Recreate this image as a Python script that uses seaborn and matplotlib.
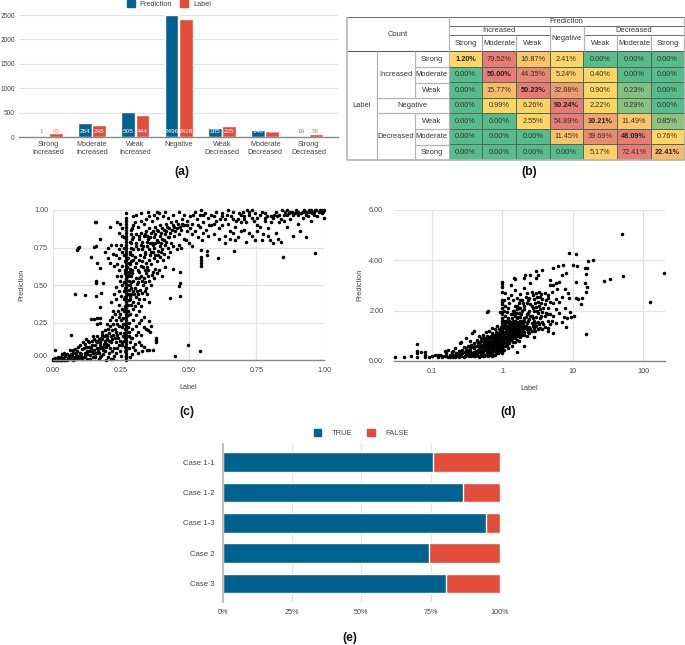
import numpy as np
import pandas as pd
import matplotlib
matplotlib.use("Agg")
import matplotlib.pyplot as plt
from matplotlib.colors import LinearSegmentedColormap
from matplotlib.patches import Patch
import seaborn as sns

# (a) class counts
classes = ["Strong\nIncreased", "Moderate\nIncreased", "Weak\nIncreased", "Negative",
           "Weak\nDecreased", "Moderate\nDecreased", "Strong\nDecreased"]
pred_counts = [1, 284, 505, 2496, 185, 140, 16]
label_counts = [83, 248, 444, 2428, 235, 131, 58]

# (b) confusion table, percent per label row
conf = [[1.20, 79.52, 16.87, 2.41, 0.00, 0.00, 0.00],
        [0.00, 50.00, 44.35, 5.24, 0.40, 0.00, 0.00],
        [0.00, 15.77, 50.23, 32.88, 0.90, 0.23, 0.00],
        [0.00, 0.99, 6.26, 90.24, 2.22, 0.29, 0.00],
        [0.00, 0.00, 2.55, 54.89, 30.21, 11.49, 0.85],
        [0.00, 0.00, 0.00, 11.45, 39.69, 48.09, 0.76],
        [0.00, 0.00, 0.00, 0.00, 5.17, 72.41, 22.41]]

# (c) points, the column at label 0.27 is kept apart
c_column_pred = [0.0, 0.01, 0.02, 0.03, 0.05, 0.07, 0.09, 0.11, 0.13, 0.15, 0.17, 0.19, 0.21, 0.23, 0.25,
                 0.27, 0.29, 0.31, 0.33, 0.35, 0.37, 0.39, 0.41, 0.43, 0.45, 0.47, 0.49, 0.51, 0.53, 0.55,
                 0.57, 0.59, 0.61, 0.63, 0.65, 0.67, 0.69, 0.71, 0.73, 0.75, 0.77, 0.79, 0.81, 0.83, 0.85,
                 0.87, 0.89, 0.91, 0.93, 0.95, 0.98]
c_points = [
    (.094, .744), (.09, .733), (.097, .753), (.082, .44), (.117, .433), (.156, .922), (.158, .918), (.141, .684),
    (.151, .756), (.157, .758), (.174, .807), (.211, .887), (.236, .922), (.249, .904), (.162, .649), (.172, .616),
    (.16, .527), (.16, .511), (.184, .511), (.157, .427), (.177, .444), (.173, .356), (.14, .271), (.15, .271),
    (.161, .278), (.174, .278), (.161, .238), (.174, .244), (.065, .167), (.006, .067), (.444, .604), (.47, .584),
    (.432, .416), (.47, .429), (.464, .496), (.469, .511), (.45, .029), (.497, .098), (.544, .06), (.355, .262),
    (.357, .189), (.38, .149), (.38, .131), (.38, .118), (.355, .067), (.37, .064), (.328, .06), (.346, .067),
    (.546, .733), (.546, .689), (.546, .667), (.546, .644), (.546, .629), (.567, .727), (.569, .7), (.61, .678),
    (.667, .727), (.847, .684), (.967, .716),
    # lower left cloud
    (.0, .0), (.005, .0), (.01, .0), (.015, .0), (.02, .0), (.025, .0), (.03, .0), (.035, .0), (.04, .0), (.045, .0),
    (.0, .01), (.006, .015), (.012, .01), (.018, .02), (.024, .012), (.03, .02), (.037, .012), (.044, .025), (.05, .0),
    (.055, .015), (.06, .03), (.065, .005), (.07, .025), (.075, .045), (.08, .01), (.085, .03), (.09, .06), (.095, .015),
    (.103, .04), (.108, .075), (.113, .02), (.117, .05), (.122, .09), (.127, .01), (.133, .06), (.138, .035), (.143, .1),
    (.147, .02), (.152, .07), (.157, .045), (.163, .12), (.168, .01), (.172, .08), (.177, .15), (.183, .04), (.187, .11),
    (.192, .06), (.197, .17), (.203, .02), (.207, .13), (.212, .08), (.218, .2), (.222, .01), (.228, .15), (.233, .05),
    (.237, .24), (.243, .1), (.247, .18), (.252, .03), (.257, .28), (.262, .13), (.266, .06), (.063, .065), (.072, .07),
    (.083, .075), (.092, .03), (.101, .1), (.112, .12), (.123, .14), (.131, .12), (.141, .06), (.153, .14), (.161, .08), (.171, .05),
    (.181, .19), (.193, .13), (.202, .21), (.213, .16), (.223, .24), (.232, .19), (.244, .29), (.253, .22), (.261, .33), (.204, .1),
    (.214, .12), (.224, .08), (.234, .12), (.241, .15), (.254, .1), (.263, .18), (.267, .24), (.251, .27), (.242, .23), (.231, .27),
    (.221, .17), (.211, .23), (.201, .16), (.191, .2), (.182, .14), (.173, .12), (.164, .16), (.154, .1), (.144, .13), (.134, .09),
    (.124, .06), (.114, .08), (.104, .02), (.093, .09), (.084, .05), (.074, .0), (.155, .02), (.175, .02), (.195, .0), (.215, .01),
    (.032, .04), (.041, .05), (.052, .04), (.058, .01), (.068, .04), (.078, .02), (.088, .01), (.098, .05), (.106, .01), (.118, .03),
    (.126, .04), (.136, .01), (.146, .05), (.156, .03), (.166, .06), (.176, .03), (.186, .07), (.196, .09), (.206, .05), (.216, .06),
    (.226, .03), (.236, .08), (.246, .06), (.256, .12), (.264, .09), (.194, .11), (.184, .09), (.174, .1), (.198, .14), (.208, .18),
    (.218, .14), (.228, .21), (.238, .17), (.248, .13), (.258, .16), (.209, .27), (.219, .29), (.229, .31), (.239, .33), (.249, .31),
    (.259, .24), (.199, .24), (.189, .16), (.179, .17), (.169, .14), (.159, .13), (.149, .16), (.139, .08), (.129, .13), (.119, .11),
    # around the column, lower half
    (.283, .02), (.291, .04), (.304, .07), (.312, .05), (.294, .09), (.302, .11), (.316, .12), (.323, .1), (.334, .09), (.284, .12),
    (.286, .15), (.293, .15), (.305, .17), (.314, .19), (.326, .17), (.335, .22), (.344, .21), (.352, .2), (.363, .23), (.281, .19),
    (.292, .21), (.306, .23), (.317, .25), (.324, .27), (.336, .29), (.282, .25), (.296, .27), (.307, .3), (.318, .33), (.284, .31),
    (.295, .34), (.303, .36), (.287, .37), (.297, .39), (.313, .38), (.325, .36), (.337, .41), (.308, .42), (.346, .44), (.353, .39),
    (.264, .36), (.253, .34), (.243, .37), (.234, .41), (.222, .33), (.214, .39), (.262, .41), (.252, .43), (.245, .46), (.233, .49),
    (.224, .44), (.263, .46), (.254, .5), (.246, .53), (.236, .56), (.261, .52), (.251, .56), (.242, .6), (.264, .58), (.255, .63),
    (.235, .64), (.225, .63), (.212, .65), (.203, .68), (.193, .72), (.204, .75), (.213, .77), (.223, .71), (.232, .7), (.243, .68),
    (.253, .72), (.263, .7), (.262, .75), (.252, .77), (.244, .74), (.233, .77), (.263, .82), (.253, .83), (.245, .85), (.255, .88),
    (.275, .3), (.278, .33), (.265, .34), (.276, .37), (.279, .4), (.266, .42), (.277, .44), (.28, .47), (.267, .48), (.274, .5),
    (.281, .53), (.268, .54), (.275, .56), (.282, .59), (.267, .6), (.274, .62), (.281, .65), (.266, .66), (.276, .68), (.283, .71),
    (.278, .22), (.265, .21), (.28, .16), (.264, .15), (.279, .08), (.268, .03), (.285, .41), (.288, .44), (.286, .48), (.289, .52),
    (.287, .56), (.291, .58), (.285, .61), (.288, .66), (.292, .7), (.286, .75), (.289, .78), (.293, .81), (.287, .84), (.29, .88),
    # upper cloud beside the column
    (.283, .43), (.294, .46), (.302, .48), (.314, .44), (.322, .47), (.331, .5), (.343, .48), (.354, .53), (.362, .5), (.373, .55),
    (.284, .5), (.296, .53), (.306, .55), (.315, .52), (.324, .56), (.336, .55), (.342, .58), (.351, .6), (.364, .57), (.376, .61),
    (.384, .58), (.392, .6), (.403, .56), (.413, .62), (.282, .57), (.293, .6), (.304, .62), (.312, .6), (.326, .63), (.333, .62),
    (.345, .65), (.356, .67), (.361, .64), (.374, .68), (.382, .66), (.394, .69), (.406, .67), (.411, .71), (.424, .69), (.432, .72),
    (.285, .64), (.296, .67), (.303, .69), (.316, .67), (.322, .7), (.334, .69), (.341, .72), (.355, .74), (.363, .72), (.372, .75),
    (.386, .73), (.393, .76), (.402, .74), (.415, .77), (.423, .75), (.434, .78), (.442, .76), (.456, .74), (.464, .77), (.473, .75),
    (.284, .72), (.295, .74), (.306, .76), (.313, .74), (.325, .77), (.332, .76), (.346, .79), (.352, .81), (.365, .78), (.374, .82),
    (.383, .8), (.396, .83), (.404, .81), (.412, .84), (.425, .82), (.433, .85), (.445, .83), (.452, .86), (.466, .84), (.474, .87),
    (.485, .81), (.492, .8), (.503, .78), (.514, .76), (.283, .79), (.294, .82), (.305, .84), (.316, .81), (.324, .85), (.335, .83),
    (.343, .86), (.356, .88), (.362, .85), (.375, .89), (.384, .87), (.395, .9), (.403, .88), (.416, .91), (.422, .89), (.435, .92),
    (.443, .9), (.454, .93), (.462, .91), (.475, .94), (.286, .87), (.297, .9), (.304, .92), (.315, .89), (.323, .93), (.336, .91),
    (.342, .94), (.354, .96), (.364, .93), (.373, .97), (.385, .95), (.392, .98), (.405, .96), (.414, .99), (.426, .95), (.444, .97),
    (.465, .99), (.306, .97), (.326, .98), (.351, .99), (.295, .96), (.384, .99),
    (.318, .83), (.328, .79), (.338, .84), (.348, .83), (.358, .82), (.368, .86), (.378, .84), (.388, .86), (.398, .85), (.408, .87),
    (.418, .86), (.428, .88), (.438, .87), (.448, .89), (.458, .88), (.468, .89), (.478, .9), (.308, .78), (.328, .74), (.338, .71),
    (.348, .76), (.358, .78), (.368, .77), (.378, .78), (.388, .79), (.398, .78), (.408, .8), (.418, .79), (.428, .82), (.308, .65),
    (.318, .59), (.328, .66), (.338, .6), (.348, .62), (.358, .7), (.368, .72), (.378, .7), (.388, .7), (.398, .72), (.309, .51),
    (.319, .55), (.329, .53), (.339, .52), (.349, .56), (.299, .44), (.309, .46), (.319, .41), (.329, .45), (.339, .46), (.369, .59),
    # upper tail
    (.482, .9), (.493, .93), (.504, .88), (.513, .91), (.525, .86), (.533, .94), (.544, .89), (.552, .92), (.564, .87), (.573, .95),
    (.583, .9), (.594, .84), (.603, .93), (.612, .88), (.624, .96), (.633, .83), (.645, .91), (.652, .86), (.664, .94), (.673, .89),
    (.684, .82), (.692, .97), (.703, .87), (.714, .92), (.722, .85), (.735, .95), (.744, .8), (.752, .9), (.763, .97), (.774, .84),
    (.783, .93), (.794, .88), (.802, .8), (.813, .95), (.824, .85), (.835, .92), (.843, .79), (.854, .97), (.862, .89), (.873, .94),
    (.884, .83), (.893, .98), (.905, .91), (.912, .86), (.923, .95), (.934, .82), (.943, .99), (.952, .93), (.963, .97), (.973, .96),
    (.982, .99), (.993, .98), (1.0, .95), (1.0, 1.0), (.483, .97), (.505, .96), (.523, .99), (.543, .97), (.553, .85), (.562, .98),
    (.584, .97), (.602, .99), (.623, .9), (.642, .97), (.663, .85), (.682, .94), (.702, .99), (.723, .97), (.743, .93), (.764, .89),
    (.782, .98), (.803, .96), (.822, .99), (.842, .94), (.863, .97), (.882, .99), (.903, .97), (.922, .99), (.942, .96), (.962, .99),
    (.494, .86), (.512, .84), (.534, .82), (.551, .8), (.572, .83), (.593, .91), (.613, .81), (.634, .78), (.654, .81), (.672, .8),
    (.693, .86), (.713, .79), (.734, .83), (.753, .86), (.773, .8), (.793, .83), (.812, .78), (.832, .81), (.704, .94), (.754, .95),
    (.804, .92), (.852, .93), (.904, .99), (.953, 1.0), (.972, 1.0), (.992, 1.0), (.933, .99), (.872, .98), (.833, .97), (.784, .95),
    (.715, 1.0), (.725, .99), (.735, 1.0), (.745, .98), (.77, .99), (.79, .96), (.815, .97), (.825, .96), (.845, 1.0), (.855, .99),
    (.865, 1.0), (.875, .99), (.885, .97), (.895, 1.0), (.915, .98), (.925, 1.0), (.935, .97), (.945, 1.0), (.955, .98), (.965, 1.0),
    (.985, 1.0), (.995, .99), (.625, .98), (.635, .94), (.655, .96), (.675, .93), (.695, .92), (.705, .96), (.685, .98), (.665, .99),
    (.645, 1.0), (.615, .94), (.595, .96), (.575, .9), (.555, .97), (.535, .9), (.515, .97), (.495, .9), (.475, .91), (.545, 1.0),
]

# (d) same idea, log label axis, the edge at label 1 is kept apart
d_edge_pred = [0.45, 0.55, 0.65, 0.7, 0.8, 0.9, 1.0, 1.1, 1.2, 1.3, 1.4, 1.5, 1.6, 1.7, 1.85, 1.95, 2.1, 2.25, 2.35, 2.4, 2.75, 2.95, 3.05, 3.15]
d_points = [
    (50, 5.03), (195, 3.49), (126, 2.32), (51, 3.36), (33.6, 3.26), (27.5, 3.18), (19.5, 3.99), (16.6, 3.96), (8.8, 4.28),
    (11.2, 4.26), (15.3, 1.09), (.061, .66), (.03, .14), (.04, .15), (.05, .2), (.06, .17), (.06, .3), (.06, .4), (.07, .37),
    (.08, .35), (.08, .22), (.08, .14), (.09, .16), (.1, .2), (.11, .25), (.12, .17), (.13, .22), (.14, .19), (.15, .4),
    (.15, .2), (.16, .3), (.17, .15), (.17, .42), (.18, .22), (.19, .35), (.2, .17), (.2, .25), (.21, .5), (.22, .3), (.23, .18),
    (.24, .4), (.25, .7), (.25, .22), (.26, .75), (.27, .3), (.28, .55), (.28, .16), (.3, .92), (.3, .4), (.31, .25), (.32, .6),
    (.33, .2), (.34, .45), (.35, .78), (.36, .3), (.37, 1.12), (.38, .55), (.39, 1.18), (.4, .2), (.4, .7), (.42, .4), (.43, .85),
    (.44, .25), (.45, .6), (.46, 1.0), (.47, .35), (.48, .75), (.5, .22), (.5, .5), (.5, .9), (.52, 1.05), (.53, .4), (.54, .7),
    (.55, .25), (.56, .85), (.57, .55), (.58, 1.15), (.6, .3), (.6, .65), (.6, 1.0), (.61, 1.95), (.62, 2.0), (.63, .45), (.64, .8),
    (.65, 1.2), (.66, .22), (.67, .6), (.68, .95), (.7, .35), (.7, .75), (.7, 1.1), (.72, 1.3), (.73, .5), (.74, .9), (.75, .25),
    (.76, .65), (.78, 1.0), (.79, 1.25), (.8, .4), (.8, .8), (.82, 1.15), (.83, .55), (.84, 1.4), (.85, .95), (.86, .3), (.87, .7),
    (.88, 1.05), (.9, .45), (.9, .85), (.9, 1.25), (.92, 1.95), (.93, .6), (.94, 1.0), (.95, 1.35), (.96, .75), (.97, .35), (.98, 1.15),
    (.55, .6), (.6, .8), (.65, .7), (.7, .9), (.75, .85), (.8, 1.0), (.85, .75), (.9, 1.1), (.95, .9), (.66, .95), (.72, .6), (.78, .8),
    # dense part right of the edge
    (1.05, .7), (1.05, 1.0), (1.05, 1.3), (1.05, 1.6), (1.05, 2.0), (1.05, 2.4), (1.1, .6), (1.1, .9), (1.1, 1.1), (1.1, 1.4), (1.1, 1.8),
    (1.1, 2.2), (1.1, 2.7), (1.15, .8), (1.15, 1.0), (1.15, 1.25), (1.15, 1.55), (1.15, 1.95), (1.2, .5), (1.2, .95), (1.2, 1.15), (1.2, 1.35),
    (1.2, 1.7), (1.2, 2.1), (1.2, 2.5), (1.25, .85), (1.25, 1.05), (1.25, 1.3), (1.25, 1.6), (1.25, 2.3), (1.3, 1.0), (1.3, 1.2), (1.3, 1.45),
    (1.3, 1.85), (1.3, 2.6), (1.3, 3.0), (1.4, .75), (1.4, .95), (1.4, 1.15), (1.4, 1.35), (1.4, 1.6), (1.4, 2.0), (1.4, 2.4), (1.45, 3.3),
    (1.5, .9), (1.5, 1.1), (1.5, 1.3), (1.5, 1.5), (1.5, 1.8), (1.5, 2.2), (1.5, 2.8), (1.5, 3.25), (1.6, .35), (1.6, 1.0), (1.6, 1.2), (1.6, 1.4), (1.6, 1.7),
    (1.6, 2.05), (1.6, 2.5), (1.7, .8), (1.7, 1.1), (1.7, 1.3), (1.7, 1.55), (1.7, 1.9), (1.7, 2.3), (1.8, .95), (1.8, 1.2), (1.8, 1.45), (1.8, 1.75),
    (1.8, 2.1), (1.8, 2.65), (1.9, 1.05), (1.9, 1.3), (1.9, 1.6), (1.9, 2.0), (1.9, 2.4), (2.0, .6), (2.0, 1.15), (2.0, 1.4), (2.0, 1.7), (2.0, 2.2), (2.0, 2.9),
    (2.0, 3.3), (2.1, 3.4), (2.2, 1.0), (2.2, 1.25), (2.2, 1.5), (2.2, 1.85), (2.2, 2.3), (2.2, 2.7), (2.4, 1.1), (2.4, 1.35), (2.4, 1.65), (2.4, 2.0), (2.4, 2.5),
    (2.5, 3.1), (2.5, 3.4), (2.6, 1.2), (2.6, 1.5), (2.6, 1.8), (2.6, 2.2), (2.6, 2.75), (2.8, .95), (2.8, 1.3), (2.8, 1.6), (2.8, 2.0), (2.8, 2.45), (3.0, 1.4),
    (3.0, 1.75), (3.0, 2.15), (3.0, 2.7), (3.0, 3.3), (3.0, 3.55), (3.2, 1.25), (3.2, 1.55), (3.2, 1.9), (3.2, 2.35), (3.2, 3.4), (3.4, 1.3), (3.4, 1.7), (3.4, 2.05),
    (3.4, 2.55), (3.6, 3.6), (3.7, 1.25), (3.7, 1.55), (3.7, 1.95), (3.7, 2.45), (4.0, 1.35), (4.0, 1.8), (4.0, 2.25), (4.0, 2.7), (4.4, 1.2), (4.4, 1.6), (4.4, 2.1),
    (4.4, 2.5), (4.7, 3.0), (4.8, 1.45), (4.8, 1.85), (4.8, 2.35), (4.8, 3.2), (5.2, 1.1), (5.2, 1.8), (5.2, 2.3), (5.2, 3.0), (5.3, 3.7), (5.7, 1.5), (5.7, 2.05), (5.7, 2.45),
    (5.7, 3.1), (6.0, 2.85), (6.2, 3.75), (6.3, 1.9), (6.3, 2.35), (6.3, 3.15), (6.9, 2.55), (7, 1.55), (7, 3.4), (7.3, 3.8), (7.5, 1.75), (7.8, 2.1), (7.8, 2.85),
    (8.0, 1.35), (8.0, 3.5), (8.2, 1.7), (8.5, 2.7), (8.7, 2.5), (9, 1.95), (9.5, 1.75), (10, 3.82), (10.5, 1.8), (11, 2.5), (11, 3.15), (11.5, 3.75), (12, 2.45),
    (13, 2.25), (13.5, 2.48), (15, 3.1), (15.5, 3.45), (16, 2.95), (15, 3.7), (16, 3.68), (15.3, 2.75),
    # dense lower band below the edge
    (.3, .3), (.35, .4), (.4, .35), (.45, .45), (.5, .4), (.55, .5), (.6, .55), (.65, .5), (.7, .55), (.75, .7), (.8, .65), (.85, .6), (.9, .7), (.95, .65),
    (.98, .8), (.98, .95), (.45, .7), (.5, .65), (.55, .78), (.6, .72), (.65, .85), (.7, .8), (.75, 1.0), (.8, .9), (.85, 1.1), (.9, .95), (.95, 1.2), (.98, 1.05), (.4, .5),
    (.35, .55), (.3, .5), (.25, .4), (.2, .38), (.25, .3), (.3, .22), (.4, .28), (.5, .3), (.6, .4), (.7, .45), (.8, .3), (.9, .55), (.97, .5), (1.05, .45), (.97, .3),
    (1.15, .65), (1.25, .7), (1.35, .6), (1.5, .75), (1.2, .8), (1.3, .85), (1.4, 1.05), (1.5, 1.0), (1.6, .85), (1.35, 1.1), (1.45, 1.25), (1.55, 1.1), (1.65, 1.25), (1.75, 1.0),
    # second pass over the crowded middle
    (.33, .3), (.37, .33), (.42, .3), (.46, .38), (.52, .33), (.57, .42), (.62, .37), (.68, .42), (.73, .38), (.77, .5), (.83, .45), (.88, .52), (.93, .48),
    (.36, .62), (.41, .6), (.47, .55), (.52, .58), (.56, .66), (.61, .6), (.66, .62), (.71, .68), (.76, .58), (.81, .72), (.86, .82), (.91, .62), (.96, .85),
    (.44, .8), (.49, .8), (.54, .9), (.59, .9), (.63, .95), (.69, 1.0), (.73, 1.05), (.77, .92), (.81, 1.08), (.87, .9), (.92, 1.15), (.96, 1.05), (.99, 1.25),
    (1.07, .85), (1.07, 1.15), (1.07, 1.45), (1.12, .75), (1.12, 1.25), (1.12, 1.6), (1.17, .9), (1.17, 1.12), (1.17, 1.4), (1.22, 1.05), (1.22, 1.25), (1.22, 1.5),
    (1.27, .95), (1.27, 1.15), (1.27, 1.4), (1.33, 1.1), (1.33, 1.3), (1.33, 1.55), (1.37, .9), (1.37, 1.25), (1.37, 1.7), (1.43, 1.1), (1.43, 1.45), (1.43, 1.85),
    (1.48, 1.2), (1.48, 1.4), (1.48, 2.0), (1.53, .95), (1.53, 1.25), (1.53, 1.6), (1.58, 1.3), (1.58, 1.5), (1.58, 1.9), (1.63, 1.1), (1.63, 1.55), (1.63, 2.2),
    (1.68, 1.2), (1.68, 1.4), (1.68, 1.75), (1.73, 1.0), (1.73, 1.45), (1.73, 2.1), (1.78, 1.3), (1.78, 1.6), (1.78, 2.4), (1.85, 1.15), (1.85, 1.4), (1.85, 1.85),
    (1.95, 1.2), (1.95, 1.5), (1.95, 2.3), (2.05, 1.05), (2.05, 1.3), (2.05, 1.6), (2.05, 2.05), (2.15, 1.4), (2.15, 1.75), (2.15, 2.55), (2.3, 1.15), (2.3, 1.6),
    (2.3, 1.9), (2.3, 2.4), (2.45, 1.25), (2.45, 1.8), (2.45, 2.25), (2.7, 1.4), (2.7, 1.7), (2.7, 2.1), (2.7, 2.6), (2.9, 1.2), (2.9, 1.5), (2.9, 2.3), (3.1, 2.0), (3.1, 2.55),
    (3.3, 1.45), (3.3, 2.2), (3.3, 2.75), (3.5, 1.8), (3.5, 2.3), (3.5, 2.65), (3.8, 2.1), (3.8, 1.45), (4.2, 1.9), (4.2, 2.4), (4.5, 1.3), (4.5, 1.85), (4.5, 2.6), (5.0, 1.6), (5, 2.75),
    (.12, .22), (.14, .15), (.16, .2), (.18, .16), (.19, .2), (.21, .15), (.22, .22), (.23, .28), (.24, .17), (.26, .2), (.27, .42), (.29, .18), (.29, .35), (.31, .45), (.33, .36),
    (.36, .2), (.38, .25), (.41, .18), (.43, .22), (.46, .17), (.48, .2), (.52, .2), (.55, .18), (.58, .22), (.62, .2), (.66, .3), (.7, .2), (.74, .22), (.78, .24), (.84, .4), (.9, .35),
]

# (e) share of correct cases
cases = ["Case 1-1", "Case 1-2", "Case 1-3", "Case 2", "Case 3"]
true_share = [76.0, 86.8, 95.0, 74.5, 80.5]
false_share = [24.0, 13.2, 5.0, 25.5, 19.5]

BLUE = "#00628f"
RED = "#e34c38"
TEXT = "#444444"
GRID = "#e2e2e2"
AXIS = "#8a8a8a"
W, H = 685, 645

sns.set_theme(style="whitegrid")
plt.rcParams["font.family"] = ["Liberation Sans", "DejaVu Sans"]
plt.rcParams["text.color"] = TEXT
plt.rcParams["axes.labelcolor"] = TEXT
plt.rcParams["xtick.color"] = TEXT
plt.rcParams["ytick.color"] = TEXT

fig = plt.figure(figsize=(W / 100, H / 100), dpi=100)


def panel(left, top, right, bottom):
    return fig.add_axes([left / W, 1 - bottom / H, (right - left) / W, (bottom - top) / H])


def clean(ax, bottom_line=True, left_line=False):
    ax.set_axisbelow(True)
    ax.grid(True, axis="both", color=GRID, linewidth=0.9)
    for name, spine in ax.spines.items():
        spine.set_visible(False)
    if bottom_line:
        ax.spines["bottom"].set_visible(True)
        ax.spines["bottom"].set_color(AXIS)
        ax.spines["bottom"].set_linewidth(1)
    if left_line:
        ax.spines["left"].set_visible(True)
        ax.spines["left"].set_color("#b5b5b5")
        ax.spines["left"].set_linewidth(1.2)
    ax.tick_params(length=0, labelsize=5.2)


# (a)
ax = panel(19, 15, 338, 137)
counts = pd.DataFrame({
    "cls": classes * 2,
    "count": pred_counts + label_counts,
    "kind": ["Prediction"] * 7 + ["Label"] * 7,
})
sns.barplot(data=counts, x="cls", y="count", hue="kind", palette=[BLUE, RED], saturation=1,
            width=0.66, gap=0.03, ax=ax, legend=False)
clean(ax)
ax.xaxis.grid(False)
ax.set_xlim(-0.686, 6.68)
ax.set_ylim(0, 2500)
ax.set_yticks([0, 500, 1000, 1500, 2000, 2500])
ax.set_xlabel("")
ax.set_ylabel("")
ax.tick_params(axis="y", pad=3, labelsize=4.7)
ax.tick_params(axis="x", pad=3)
for container, color in zip(ax.containers, ["#4f93bb", "#f0897a"]):
    for bar, value in zip(container, container.datavalues):
        inside = value > 100
        ax.text(bar.get_x() + bar.get_width() / 2, 108, f"{value:.0f}", ha="center", va="center",
                fontsize=4.6, color="white" if inside else color)
ax.legend(handles=[Patch(color=BLUE, label="Prediction"), Patch(color=RED, label="Label")],
          loc="center", bbox_to_anchor=(150 / 319, 1.09), ncol=2, frameon=False, fontsize=5.3,
          handlelength=1.0, handleheight=1.0, handletextpad=0.7, columnspacing=1.1, borderpad=0)

# (b)
conf_arr = np.array(conf)
levels = np.zeros_like(conf_arr)
for i, row in enumerate(conf_arr):
    lo, mid, hi = row.min(), np.median(row), row.max()
    for j, v in enumerate(row):
        if v <= lo:
            levels[i, j] = 0.0
        elif v <= mid:
            levels[i, j] = 0.5 * (v - lo) / (mid - lo)
        else:
            levels[i, j] = 0.5 + 0.5 * (v - mid) / (hi - mid)

scale = LinearSegmentedColormap.from_list("sheet", ["#57bb8a", "#ffd666", "#e67c73"])
ax = panel(448.7, 51.3, 684.3, 160)
cells = [[f"{v:.2f}%" for v in row] for row in conf]
sns.heatmap(levels, annot=np.array(cells), fmt="", cmap=scale, vmin=0, vmax=1, cbar=False,
            linewidths=0.5, linecolor="#4a6a5a", xticklabels=False, yticklabels=False,
            annot_kws={"fontsize": 5.3, "color": "#333333"}, ax=ax)
for i, t in enumerate(ax.texts):
    if i % 8 == 0:
        t.set_fontweight("bold")
        t.set_color("#222222")

# table frame and headers are drawn on a pixel overlay
ov = fig.add_axes([0, 0, 1, 1], facecolor="none")
ov.set_xlim(0, W)
ov.set_ylim(H, 0)
ov.axis("off")
col_x = [346.7, 376.7, 414.7, 448.7, 482.3, 516, 549.7, 583.7, 617.3, 651, 684.3]
row_y = [16.7, 26, 35.3, 51.3, 67, 82.7, 98, 113.3, 129, 144.7, 160]
GREY = "#b4b4b4"
DARK = "#555555"


def line(x0, y0, x1, y1, color=GREY, lw=0.9):
    ov.plot([x0, x1], [y0, y1], color=color, lw=lw, solid_capstyle="butt")


line(col_x[0], row_y[0], col_x[-1], row_y[0], DARK, 0.6)
line(col_x[3], row_y[1], col_x[-1], row_y[1], DARK, 0.6)
line(col_x[3], row_y[2], col_x[6], row_y[2], DARK, 0.6)
line(col_x[7], row_y[2], col_x[-1], row_y[2], DARK, 0.6)
line(col_x[0], row_y[3], col_x[-1], row_y[3], DARK, 0.7)
line(col_x[0], row_y[0], col_x[0], row_y[-1], GREY, 1.2)
line(col_x[0], row_y[-1], col_x[-1], row_y[-1], GREY, 1.2)
line(col_x[3], row_y[0], col_x[3], row_y[-1], GREY, 0.9)
line(col_x[-1], row_y[0], col_x[-1], row_y[-1], GREY, 1.0)
line(col_x[1], row_y[3], col_x[1], row_y[-1])
line(col_x[2], row_y[3], col_x[2], row_y[6])
line(col_x[2], row_y[7], col_x[2], row_y[-1])
for k in [6, 7]:
    line(col_x[1], row_y[k], col_x[3], row_y[k])
for k in [4, 5, 8, 9]:
    line(col_x[2], row_y[k], col_x[3], row_y[k])
for k in [4, 5, 6, 7, 8, 9]:
    line(col_x[k], row_y[1] if k in (6, 7) else row_y[2], col_x[k], row_y[3])

tkw = dict(ha="center", va="center", fontsize=5.4, color="#333333")
ov.text(397.5, 34, "Count", **tkw)
ov.text(566.5, 21.5, "Prediction", **tkw)
ov.text(499, 31, "Increased", **tkw)
ov.text(634, 31, "Decreased", **tkw)
ov.text(566.8, 38.5, "Negative", **tkw)
for x, name in zip(col_x[3:], ["Strong", "Moderate", "Weak"]):
    ov.text(x + 16.9, 43.5, name, **tkw)
for x, name in zip(col_x[7:], ["Weak", "Moderate", "Strong"]):
    ov.text(x + 16.9, 43.5, name, **tkw)
ov.text(361.7, 105.5, "Label", **tkw)
ov.text(395.7, 74.5, "Increased", **tkw)
ov.text(412, 105.5, "Negative", **tkw)
ov.text(395.7, 137, "Decreased", **tkw)
for y, name in zip(row_y[3:6], ["Strong", "Moderate", "Weak"]):
    ov.text(431.7, y + 7.8, name, **tkw)
for y, name in zip(row_y[7:10], ["Weak", "Moderate", "Strong"]):
    ov.text(431.7, y + 7.8, name, **tkw)

for x, y, name in [(182, 172, "(a)"), (529, 172, "(b)"), (187, 412, "(c)"), (508, 412, "(d)"), (350, 638, "(e)")]:
    ov.text(x, y, name, ha="center", va="center", fontsize=8.8, fontweight="bold", color="#111111")

# (c)
ax = panel(53, 210, 324, 360)
scatter_c = pd.DataFrame(c_points + [(0.27, p) for p in c_column_pred], columns=["Label", "Prediction"])
sns.scatterplot(data=scatter_c, x="Label", y="Prediction", color="black", s=6.5, linewidth=0, ax=ax, clip_on=False)
clean(ax)
ax.set_xlim(0, 1)
ax.set_ylim(0, 1)
ax.set_xticks([0, 0.25, 0.5, 0.75, 1])
ax.set_yticks([0, 0.25, 0.5, 0.75, 1])
ax.set_xticklabels(["0.00", "0.25", "0.50", "0.75", "1.00"])
ax.set_yticklabels(["0.00", "0.25", "0.50", "0.75", "1.00"])
ax.get_yticklabels()[0].set_va("bottom")
ax.tick_params(axis="y", pad=3.5)
ax.tick_params(axis="x", pad=5)
ax.set_xlabel("Label", fontsize=5.2, labelpad=7)
ax.set_ylabel("Prediction", fontsize=5.2, labelpad=6)

# (d)
ax = panel(394.3, 209.7, 665, 361)
scatter_d = pd.DataFrame(d_points + [(1.0, p) for p in d_edge_pred], columns=["Label", "Prediction"])
sns.scatterplot(data=scatter_d, x="Label", y="Prediction", color="black", s=6.5, linewidth=0, ax=ax, clip_on=False)
clean(ax)
ax.set_xscale("log")
ax.set_xlim(0.029, 204)
ax.set_ylim(0, 6)
ax.set_xticks([0.1, 1, 10, 100])
ax.set_xticklabels(["0.1", "1", "10", "100"])
ax.minorticks_off()
ax.set_yticks([0, 2, 4, 6])
ax.set_yticklabels(["0.00", "2.00", "4.00", "6.00"])
ax.tick_params(axis="y", pad=8)
ax.tick_params(axis="x", pad=5)
ax.set_xlabel("Label", fontsize=5.2, labelpad=7)
ax.set_ylabel("Prediction", fontsize=5.2, labelpad=4)

# (e)
ax = panel(222.7, 444, 500, 601.7)
shares = pd.DataFrame({"case": cases, "true": true_share, "false": false_share})
shares["total"] = shares["true"] + shares["false"]
sns.barplot(data=shares, y="case", x="total", color=RED, saturation=1, width=0.645, ax=ax)
sns.barplot(data=shares, y="case", x="true", color=BLUE, saturation=1, width=0.645, ax=ax)
clean(ax, bottom_line=False, left_line=True)
ax.yaxis.grid(False)
ax.set_xlim(0, 100)
ax.set_ylim(4.5 + 0.1, -0.5 - 0.1)
ax.set_xticks([0, 25, 50, 75, 100])
ax.set_xticklabels(["0%", "25%", "50%", "75%", "100%"])
ax.set_xlabel("")
ax.set_ylabel("")
ax.tick_params(axis="y", pad=6, labelsize=5.6)
ax.tick_params(axis="x", pad=5, labelsize=5.2)
ax.legend(handles=[Patch(color=BLUE, label="TRUE"), Patch(color=RED, label="FALSE")],
          loc="center", bbox_to_anchor=(0.5, 1.07), ncol=2, frameon=False, fontsize=5.4,
          handlelength=1.0, handleheight=1.0, handletextpad=1.4, columnspacing=2.0, borderpad=0)

fig.savefig("out.png", dpi=100)
